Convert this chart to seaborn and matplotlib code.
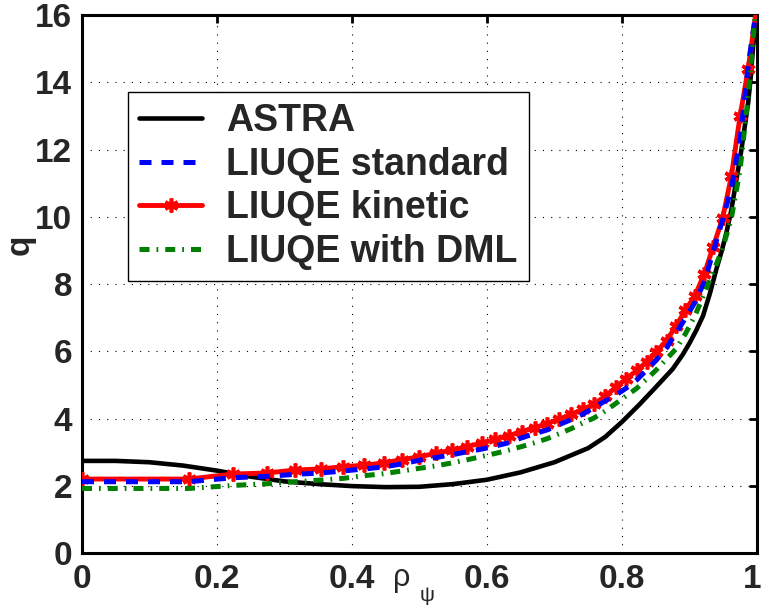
import numpy as np
import pandas as pd
import matplotlib
matplotlib.use("Agg")
import matplotlib.pyplot as plt
import matplotlib.transforms as mtransforms
import seaborn as sns

# ---------------- data ----------------
rho_grid = [0.0, 0.158, 0.224, 0.274, 0.316, 0.354, 0.387, 0.418, 0.447, 0.474,
            0.500, 0.524, 0.548, 0.570, 0.592, 0.612, 0.632, 0.652, 0.671, 0.689,
            0.707, 0.725, 0.742, 0.758, 0.775, 0.791, 0.806, 0.822, 0.837, 0.851,
            0.866, 0.880, 0.894, 0.908, 0.922, 0.935, 0.949, 0.962, 0.975, 0.987, 1.0]

q_kinetic = [2.20, 2.20, 2.35, 2.38, 2.47, 2.50, 2.57, 2.61, 2.68, 2.78,
             2.86, 2.97, 3.06, 3.16, 3.27, 3.38, 3.49, 3.61, 3.73, 3.85,
             3.98, 4.12, 4.27, 4.42, 4.66, 4.93, 5.18, 5.43, 5.69, 5.98,
             6.32, 6.75, 7.22, 7.65, 8.30, 9.10, 9.95, 11.2, 13.0, 14.4, 16.3]

q_standard = [2.12, 2.12, 2.24, 2.28, 2.34, 2.38, 2.44, 2.50, 2.56, 2.65,
              2.76, 2.84, 2.92, 3.01, 3.09, 3.18, 3.28, 3.43, 3.55, 3.66,
              3.82, 3.97, 4.13, 4.32, 4.52, 4.70, 4.90, 5.15, 5.45, 5.74,
              6.10, 6.54, 6.98, 7.45, 8.06, 8.95, 9.90, 10.85, 12.3, 14.5, 16.3]

q_dml = [1.92, 1.92, 2.01, 2.06, 2.12, 2.17, 2.22, 2.30, 2.36, 2.44,
         2.52, 2.59, 2.68, 2.77, 2.87, 2.96, 3.06, 3.17, 3.28, 3.40,
         3.55, 3.70, 3.87, 4.01, 4.22, 4.45, 4.67, 4.90, 5.18, 5.45,
         5.77, 6.07, 6.52, 7.05, 7.72, 8.35, 9.05, 9.95, 11.4, 13.6, 16.6]

rho_astra = [0.0, 0.05, 0.10, 0.15, 0.20, 0.25, 0.30, 0.35, 0.40, 0.45,
             0.50, 0.55, 0.60, 0.65, 0.70, 0.75, 0.775, 0.80, 0.825, 0.85,
             0.875, 0.89, 0.90, 0.91, 0.92, 0.93, 0.94, 0.948, 0.955, 0.962,
             0.967, 0.972, 0.977, 0.982, 0.987, 0.991, 0.994, 0.997, 1.0]
q_astra = [2.74, 2.74, 2.70, 2.60, 2.45, 2.27, 2.13, 2.05, 1.99, 1.96,
           1.97, 2.05, 2.18, 2.40, 2.70, 3.12, 3.45, 3.90, 4.40, 4.93,
           5.47, 5.90, 6.24, 6.62, 7.05, 7.70, 8.45, 9.00, 9.55, 10.2,
           10.8, 11.4, 12.0, 12.7, 13.4, 14.2, 15.0, 15.6, 16.3]

labels = ["ASTRA", "LIUQE standard", "LIUQE kinetic", "LIUQE with DML"]
x_ticks = [0, 0.2, 0.4, 0.6, 0.8, 1.0]
x_ticklabels = ["0", "0.2", "0.4", "0.6", "0.8", "1"]
y_ticks = [0, 2, 4, 6, 8, 10, 12, 14, 16]
y_ticklabels = ["0", "2", "4", "6", "8", "10", "12", "14", "16"]

df_astra = pd.DataFrame({"rho": rho_astra, "q": q_astra})
df_grid = pd.DataFrame({"rho": rho_grid, "kin": q_kinetic,
                        "std": q_standard, "dml": q_dml})

# ---------------- style ----------------
sns.set_style("white")
plt.rcParams["font.family"] = ["Liberation Sans", "DejaVu Sans"]
plt.rcParams["font.weight"] = "bold"

fig = plt.figure(figsize=(7.62, 6.10), dpi=100)
ax = fig.add_axes([0.1076, 0.0934, 0.8858, 0.882])

sns.lineplot(data=df_astra, x="rho", y="q", ax=ax, color="black",
             lw=3.3, zorder=3, sort=False, estimator=None)
h_astra = ax.get_lines()[-1]

sns.lineplot(data=df_grid, x="rho", y="kin", ax=ax, color="#ff0000",
             lw=3.5, zorder=4, sort=False, estimator=None,
             marker=(6, 2, 0), markersize=10, markeredgewidth=2.6,
             markeredgecolor="#ff0000", markerfacecolor="#ff0000")
h_kin = ax.get_lines()[-1]

sns.lineplot(data=df_grid, x="rho", y="std", ax=ax, color="#0000ff",
             lw=3.6, zorder=5, sort=False, estimator=None,
             linestyle=(0, (2.4, 2.0)))
h_std = ax.get_lines()[-1]

sns.lineplot(data=df_grid, x="rho", y="dml", ax=ax, color="#008000",
             lw=3.6, zorder=6, sort=False, estimator=None,
             linestyle=(0, (2.0, 1.4, 0.35, 1.4)))
h_dml = ax.get_lines()[-1]

ax.set_xlim(0, 1)
ax.set_ylim(0, 16)
ax.set_xlabel("")
ax.set_ylabel("")
ax.set_xticks(x_ticks)
ax.set_xticklabels(x_ticklabels)
ax.set_yticks(y_ticks)
ax.set_yticklabels(y_ticklabels)
ax.tick_params(axis="both", which="major", direction="in", length=6, width=2,
               labelsize=24, top=True, right=True, color="black")
ax.tick_params(axis="x", pad=8)
ax.tick_params(axis="y", pad=7)
for lab in ax.get_xticklabels() + ax.get_yticklabels():
    lab.set_fontweight("bold")
# keep the last x tick label inside the figure
last = ax.get_xticklabels()[-1]
last.set_transform(last.get_transform() +
                   mtransforms.ScaledTranslation(-5 / 100, 0, fig.dpi_scale_trans))

ax.grid(True, color="black", linewidth=0.8, linestyle=(0, (1, 6.4)))
for sp in ax.spines.values():
    sp.set_linewidth(2.2)
    sp.set_color("black")
    sp.set_visible(True)
ax.set_axisbelow(True)

leg = ax.legend([h_astra, h_std, h_kin, h_dml], labels,
                loc="upper left", bbox_to_anchor=(0.068, 0.857),
                borderaxespad=0, fancybox=False, framealpha=1,
                edgecolor="black", handlelength=1.68, handletextpad=0.64,
                borderpad=0.3, labelspacing=0.2,
                prop={"family": ["Liberation Sans"], "weight": "bold", "size": 27})
leg.get_frame().set_linewidth(1.0)
leg.set_zorder(10)

# axis labels
fig.text(0.026, 0.598, "q", rotation=90, fontsize=24, fontweight="bold",
         ha="center", va="center")
fig.text(0.5157, 0.053, "ρ", fontsize=22, fontweight="normal",
         ha="left", va="center")
fig.text(0.5505, 0.024, "ψ", fontsize=15, fontweight="normal",
         ha="left", va="center")

fig.savefig("out.png", dpi=100)
